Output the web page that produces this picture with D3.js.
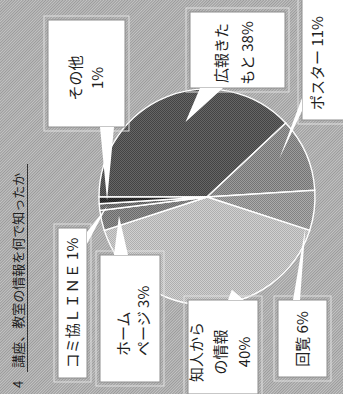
<!DOCTYPE html>
<html>
<head>
<meta charset="utf-8">
<script src="https://cdn.jsdelivr.net/npm/d3@7"></script>
<style>
  html, body { margin: 0; padding: 0; background: #b0b0b0; overflow: hidden; }
  text { font-family: "Noto Sans CJK JP", sans-serif; fill: #1e1e1e; }
</style>
</head>
<body>
<div id="chart"></div>
<script>
const title = "4　講座、教室の情報を何で知ったか";
const categories = ["広報きたもと", "ポスター", "回覧", "知人からの情報", "ホームページ", "コミ協ＬＩＮＥ", "その他"];
const values = [38, 11, 6, 40, 3, 1, 1];
// label text per slice, {p} is replaced by the percent
const labelLines = [
  ["広報きた", "もと {p}"],
  ["ポスター {p}"],
  ["回覧 {p}"],
  ["知人から", "の情報", "{p}"],
  ["ホーム", "ページ {p}"],
  ["コミ協ＬＩＮＥ {p}"],
  ["その他", "{p}"],
];

// chart is drawn upright in a 394 x 343 frame, then turned a quarter left
const W = 394, H = 343;
const cx = 197, cy = 207, radius = 108;
// two tones per fill so the scan's halftone shows
const tones = [
  ["#444444", "#666666"],
  ["#747474", "#9c9c9c"],
  ["#838383", "#ababab"],
  ["#afafaf", "#d0d0d0"],
  ["#6a6a6a", "#919191"],
  ["#555555", "#808080"],
  ["#1e1e1e", "#3a3a3a"],
];

// callout boxes: box, text anchor, line height, pointer base, pointer tip (deg, radius)
const callouts = [
  { box: [306, 190, 76, 95], tx: 341, ty: 227, lh: 26, anchor: "middle", base: [[306, 200], [306, 223]], tip: [74, 78] },
  { box: [274, 302, 122, 45], tx: 331, ty: 323, lh: 22, anchor: "middle", base: [[296, 302], [283, 302]], tip: [152, 82] },
  { box: [17, 278, 77, 49], tx: 55, ty: 308, lh: 22, anchor: "middle", base: [[94, 293], [94, 300]], tip: [197, 103] },
  { box: [0, 188, 94, 70], tx: 42, ty: 202, lh: 24, anchor: "middle", base: [[94, 228], [94, 244]], tip: [255, 96] },
  { box: [12, 100, 127, 60], tx: 38, ty: 129, lh: 20, anchor: "start", base: [[139, 114], [139, 128]], tip: [348, 90] },
  { box: [16, 58, 150, 29], tx: 91, ty: 78, lh: 22, anchor: "middle", base: [[150, 87], [162, 87]], tip: [355, 100] },
  { box: [267, 48, 107, 77], tx: 316, ty: 81, lh: 22, anchor: "middle", base: [[267, 100], [267, 114]], tip: [358, 100] },
];

const svg = d3.select("#chart")
  .append("svg")
  .attr("width", H)
  .attr("height", W);

const defs = svg.append("defs");

function checker(id, a, b) {
  const p = defs.append("pattern")
    .attr("id", id)
    .attr("width", 2).attr("height", 2)
    .attr("patternUnits", "userSpaceOnUse");
  p.append("rect").attr("width", 2).attr("height", 2).attr("fill", a);
  p.append("rect").attr("width", 1).attr("height", 1).attr("fill", b);
  p.append("rect").attr("x", 1).attr("y", 1).attr("width", 1).attr("height", 1).attr("fill", b);
}

// background hatch
const hatch = defs.append("pattern")
  .attr("id", "bg")
  .attr("width", 2).attr("height", 2)
  .attr("patternUnits", "userSpaceOnUse")
  .attr("patternTransform", "rotate(45)");
hatch.append("rect").attr("width", 2).attr("height", 2).attr("fill", "#c4c4c4");
hatch.append("rect").attr("width", 1).attr("height", 2).attr("fill", "#9a9a9a");

tones.forEach((t, i) => checker(`tone${i}`, t[0], t[1]));

svg.append("rect").attr("width", H).attr("height", W).attr("fill", "url(#bg)");

const g = svg.append("g").attr("transform", `translate(0,${W}) rotate(-90)`);

// title
g.append("text")
  .attr("x", 6)
  .attr("y", 23)
  .style("font-size", "13px")
  .text(title);
g.append("line")
  .attr("x1", 22).attr("x2", 230)
  .attr("y1", 27.5).attr("y2", 27.5)
  .attr("stroke", "#333")
  .attr("stroke-width", 1);

const pie = d3.pie().sort(null).value((d) => d);
const arcs = pie(values);
const arc = d3.arc().innerRadius(0).outerRadius(radius);

const plot = g.append("g").attr("transform", `translate(${cx},${cy})`);

plot.selectAll("path")
  .data(arcs)
  .join("path")
  .attr("d", arc)
  .attr("fill", (d, i) => `url(#tone${i})`)
  .attr("stroke", "#fff")
  .attr("stroke-width", 1.4);

// callouts
const labels = g.append("g");
callouts.forEach((c, i) => {
  const [tx, ty] = d3.pointRadial((c.tip[0] * Math.PI) / 180, c.tip[1]);
  const tip = [cx + tx, cy + ty];
  labels.append("rect")
    .attr("x", c.box[0] - 4).attr("y", c.box[1] - 4)
    .attr("width", c.box[2] + 8).attr("height", c.box[3] + 8)
    .attr("fill", "none")
    .attr("stroke", "#e0e0e0")
    .attr("stroke-width", 1);
  labels.append("rect")
    .attr("x", c.box[0]).attr("y", c.box[1])
    .attr("width", c.box[2]).attr("height", c.box[3])
    .attr("fill", "#fff")
    .attr("stroke", "#8e8e8e")
    .attr("stroke-width", 1);
  labels.append("path")
    .attr("d", d3.line()([c.base[0], tip, c.base[1]]))
    .attr("fill", "#fff");

  const pct = `${values[i]}%`;
  const t = labels.append("text")
    .attr("text-anchor", c.anchor)
    .style("font-size", "15px");
  labelLines[i].forEach((line, j) => {
    t.append("tspan")
      .attr("x", c.tx)
      .attr("y", c.ty + j * c.lh)
      .text(line.replace("{p}", pct));
  });
});
</script>
</body>
</html>
